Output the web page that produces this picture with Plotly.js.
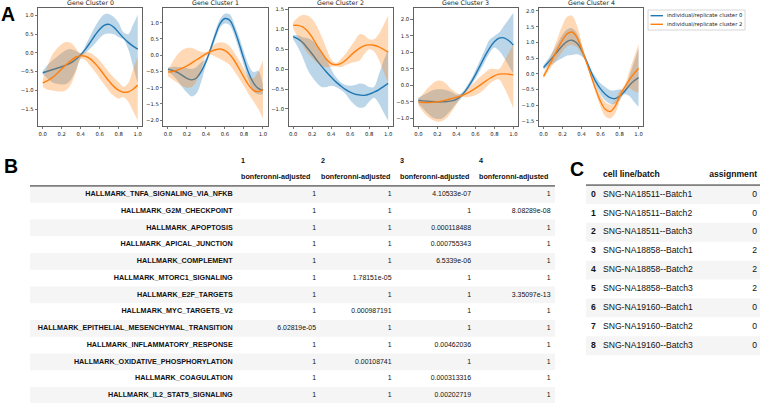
<!DOCTYPE html>
<html>
<head>
<meta charset="utf-8">
<script src="https://cdn.plot.ly/plotly-3.0.1.min.js"></script>
<style>
  html, body { margin: 0; padding: 0; background: #fff; }
  #chart { width: 767px; height: 403px; }
</style>
</head>
<body>
<div id="chart"></div>
<script>
// ---- panel A: smoothed trajectories per gene cluster ----
const tGrid = [0, 0.05, 0.1, 0.15, 0.2, 0.25, 0.3, 0.35, 0.4, 0.45, 0.5, 0.55, 0.6, 0.65, 0.7, 0.75, 0.8, 0.85, 0.9, 0.95, 1.0];
const xTicks = [0, 0.2, 0.4, 0.6, 0.8, 1.0];
const clusterTitles = ["Gene Cluster 0", "Gene Cluster 1", "Gene Cluster 2", "Gene Cluster 3", "Gene Cluster 4"];
const seriesNames = ["individual/replicate cluster 0", "individual/replicate cluster 2"];

// replicate cluster 0 (blue)
const rep0Mean = [
  [-0.53, -0.49, -0.45, -0.41, -0.37, -0.32, -0.26, -0.17, -0.05, 0.10, 0.28, 0.47, 0.63, 0.74, 0.76, 0.68, 0.54, 0.40, 0.28, 0.18, 0.10],
  [-0.43, -0.47, -0.53, -0.62, -0.71, -0.76, -0.70, -0.50, -0.20, 0.20, 0.62, 0.98, 1.13, 1.08, 0.78, 0.35, -0.12, -0.55, -0.85, -1.02, -1.08],
  [0.82, 0.76, 0.67, 0.53, 0.38, 0.22, 0.07, -0.07, -0.20, -0.32, -0.42, -0.51, -0.58, -0.63, -0.65, -0.66, -0.63, -0.58, -0.52, -0.44, -0.36],
  [-0.45, -0.47, -0.48, -0.49, -0.50, -0.50, -0.49, -0.47, -0.42, -0.32, -0.15, 0.07, 0.32, 0.60, 0.88, 1.13, 1.32, 1.43, 1.44, 1.36, 1.22],
  [0.20, 0.37, 0.54, 0.72, 0.90, 1.03, 1.07, 0.98, 0.75, 0.42, 0.06, -0.25, -0.48, -0.65, -0.76, -0.79, -0.72, -0.57, -0.38, -0.23, -0.12],
];
const rep0Low = [
  [-0.57, -0.68, -0.78, -0.82, -0.84, -0.82, -0.70, -0.45, -0.12, 0.00, 0.12, 0.25, 0.40, 0.50, 0.52, 0.50, 0.42, 0.36, 0.10, -0.35, -0.82],
  [-0.50, -0.62, -0.78, -0.98, -1.15, -1.27, -1.18, -0.82, -0.30, 0.08, 0.50, 0.85, 0.98, 0.92, 0.60, 0.15, -0.32, -0.78, -1.12, -1.20, -1.20],
  [0.75, 0.55, 0.30, 0.00, -0.20, -0.35, -0.45, -0.45, -0.42, -0.45, -0.52, -0.62, -0.78, -0.90, -0.97, -0.95, -0.82, -0.72, -0.85, -1.08, -1.30],
  [-0.55, -0.70, -0.85, -0.97, -1.02, -1.00, -0.88, -0.72, -0.55, -0.40, -0.22, -0.02, 0.20, 0.45, 0.72, 0.98, 1.15, 1.05, 0.85, 0.60, 0.35],
  [0.12, 0.25, 0.33, 0.42, 0.50, 0.58, 0.60, 0.62, 0.56, 0.38, -0.02, -0.38, -0.66, -0.85, -0.95, -0.95, -0.85, -0.65, -0.70, -0.88, -1.05],
];
const rep0High = [
  [-0.48, -0.32, -0.20, -0.10, 0.00, 0.08, 0.10, 0.05, 0.00, 0.20, 0.45, 0.70, 0.90, 1.03, 1.03, 0.95, 0.80, 0.55, 0.50, 0.75, 1.02],
  [-0.38, -0.36, -0.36, -0.38, -0.40, -0.42, -0.36, -0.22, -0.10, 0.30, 0.76, 1.12, 1.28, 1.26, 0.95, 0.55, 0.10, -0.30, -0.52, -0.48, -0.95],
  [0.86, 0.85, 0.80, 0.78, 0.72, 0.60, 0.45, 0.25, 0.00, -0.20, -0.33, -0.40, -0.42, -0.40, -0.36, -0.38, -0.45, -0.45, -0.15, 0.20, 0.48],
  [-0.38, -0.30, -0.22, -0.15, -0.12, -0.12, -0.15, -0.20, -0.28, -0.24, -0.06, 0.16, 0.45, 0.76, 1.08, 1.38, 1.50, 1.60, 1.80, 2.00, 2.20],
  [0.28, 0.48, 0.72, 0.98, 1.25, 1.42, 1.45, 1.30, 0.92, 0.48, 0.14, -0.10, -0.30, -0.42, -0.52, -0.52, -0.50, -0.50, -0.10, 0.35, 0.80],
];

// replicate cluster 2 (orange)
const rep2Mean = [
  [-0.80, -0.74, -0.66, -0.55, -0.43, -0.31, -0.20, -0.11, -0.08, -0.09, -0.16, -0.28, -0.43, -0.60, -0.76, -0.90, -1.00, -1.05, -1.04, -0.97, -0.86],
  [-0.52, -0.50, -0.46, -0.40, -0.33, -0.24, -0.14, -0.05, 0.04, 0.11, 0.17, 0.19, 0.14, 0.02, -0.17, -0.42, -0.68, -0.92, -1.08, -1.12, -1.05],
  [1.10, 1.10, 1.06, 0.96, 0.80, 0.60, 0.42, 0.25, 0.14, 0.11, 0.14, 0.22, 0.33, 0.44, 0.53, 0.59, 0.61, 0.60, 0.56, 0.50, 0.43],
  [-0.50, -0.52, -0.52, -0.51, -0.50, -0.47, -0.44, -0.40, -0.36, -0.32, -0.26, -0.18, -0.09, 0.01, 0.11, 0.21, 0.29, 0.34, 0.35, 0.34, 0.32],
  [-0.08, 0.20, 0.50, 0.80, 1.08, 1.28, 1.33, 1.17, 0.80, 0.38, -0.06, -0.50, -0.88, -1.13, -1.20, -1.05, -0.72, -0.45, -0.20, 0.00, 0.17],
];
const rep2Low = [
  [-0.90, -0.98, -1.00, -1.02, -1.03, -0.98, -0.82, -0.50, -0.16, -0.20, -0.35, -0.50, -0.68, -0.85, -1.02, -1.15, -1.22, -1.18, -1.30, -1.55, -1.80],
  [-0.65, -0.75, -0.85, -0.95, -1.00, -0.98, -0.80, -0.45, -0.02, 0.02, -0.05, -0.12, -0.20, -0.30, -0.50, -0.72, -0.95, -1.20, -1.42, -1.65, -1.95],
  [1.02, 0.80, 0.60, 0.40, 0.28, 0.16, 0.08, 0.05, 0.06, 0.07, 0.05, 0.10, 0.15, 0.18, 0.22, 0.38, 0.50, 0.45, 0.25, -0.05, -0.35],
  [-0.60, -0.80, -0.95, -1.05, -1.10, -1.08, -0.98, -0.80, -0.58, -0.36, -0.36, -0.34, -0.30, -0.22, -0.10, 0.05, 0.15, 0.18, -0.05, -0.35, -0.70],
  [-0.15, 0.08, 0.30, 0.50, 0.72, 0.88, 0.92, 0.85, 0.62, 0.35, -0.15, -0.62, -1.05, -1.35, -1.42, -1.28, -0.88, -0.55, -0.45, -0.55, -0.60],
];
const rep2High = [
  [-0.70, -0.35, -0.05, 0.12, 0.24, 0.29, 0.26, 0.12, -0.02, 0.02, 0.00, -0.08, -0.20, -0.36, -0.52, -0.66, -0.78, -0.90, -0.80, -0.45, -0.10],
  [-0.45, -0.20, 0.02, 0.16, 0.22, 0.22, 0.16, 0.10, 0.10, 0.20, 0.35, 0.40, 0.38, 0.28, 0.08, -0.15, -0.42, -0.65, -0.70, -0.50, -0.15],
  [1.18, 1.30, 1.36, 1.35, 1.26, 1.08, 0.82, 0.52, 0.25, 0.15, 0.25, 0.38, 0.55, 0.72, 0.88, 0.85, 0.75, 0.75, 0.88, 1.10, 1.35],
  [-0.42, -0.25, -0.08, 0.06, 0.14, 0.13, 0.03, -0.12, -0.22, -0.28, -0.16, -0.02, 0.12, 0.26, 0.38, 0.50, 0.50, 0.50, 0.72, 0.98, 1.25],
  [0.00, 0.35, 0.75, 1.15, 1.55, 1.82, 1.85, 1.55, 1.00, 0.45, 0.03, -0.38, -0.68, -0.90, -0.98, -0.85, -0.55, -0.38, 0.05, 0.50, 0.95],
];

// ---- panel B: enrichment table ----
const pathways = [
  "HALLMARK_TNFA_SIGNALING_VIA_NFKB", "HALLMARK_G2M_CHECKPOINT", "HALLMARK_APOPTOSIS",
  "HALLMARK_APICAL_JUNCTION", "HALLMARK_COMPLEMENT", "HALLMARK_MTORC1_SIGNALING",
  "HALLMARK_E2F_TARGETS", "HALLMARK_MYC_TARGETS_V2", "HALLMARK_EPITHELIAL_MESENCHYMAL_TRANSITION",
  "HALLMARK_INFLAMMATORY_RESPONSE", "HALLMARK_OXIDATIVE_PHOSPHORYLATION", "HALLMARK_COAGULATION",
  "HALLMARK_IL2_STAT5_SIGNALING",
];
const clusterHeads = ["1", "2", "3", "4"];
const subHead = "bonferonni-adjusted";
const padj1 = [1, 1, 1, 1, 1, 1, 1, 1, 6.02819e-05, 1, 1, 1, 1];
const padj2 = [1, 1, 1, 1, 1, 1.78151e-05, 1, 0.000987191, 1, 1, 0.00108741, 1, 1];
const padj3 = [4.10533e-07, 1, 0.000118488, 0.000755343, 6.5339e-06, 1, 1, 1, 1, 0.00462036, 1, 0.000313316, 0.00202719];
const padj4 = [1, 8.08289e-08, 1, 1, 1, 1, 3.35097e-13, 1, 1, 1, 1, 1, 1];

// ---- panel C: cell line assignment ----
const cellLines = [
  "SNG-NA18511--Batch1", "SNG-NA18511--Batch2", "SNG-NA18511--Batch3",
  "SNG-NA18858--Batch1", "SNG-NA18858--Batch2", "SNG-NA18858--Batch3",
  "SNG-NA19160--Batch1", "SNG-NA19160--Batch2", "SNG-NA19160--Batch3",
];
const assignments = [0, 0, 0, 2, 2, 2, 0, 0, 0];

// ---------------------------------------------------------------------------
const W = 767, H = 403;
const px = (x) => x / W;
const py = (y) => 1 - y / H;

const BLUE = "#1f77b4", ORANGE = "#ff7f0e";
const BLUE_FILL = "rgba(31,119,180,0.3)", ORANGE_FILL = "rgba(255,127,14,0.3)";
const yRanges = [[-1.95, 1.21], [-2.18, 1.47], [-1.43, 1.55], [-1.23, 2.36], [-1.66, 2.11]];
const TABLE_FONT = "Liberation Sans, Arial, Helvetica, sans-serif";
const MPL_FONT = "DejaVu Sans, sans-serif";

// pandas-like %g formatting
const gfmt = (v) => {
  if (v === 1) return "1";
  const e = Math.floor(Math.log10(Math.abs(v)));
  if (e < -4) {
    let [m, ex] = v.toExponential(5).split("e");
    m = m.replace(/\.?0+$/, "");
    const n = parseInt(ex, 10);
    return m + "e" + (n < 0 ? "-" : "+") + String(Math.abs(n)).padStart(2, "0");
  }
  return String(Number(v.toPrecision(6)));
};

const traces = [];
const shapes = [];
const annotations = [];
const layout = {
  width: W, height: H,
  margin: { l: 0, r: 0, t: 0, b: 0 },
  paper_bgcolor: "#ffffff",
  plot_bgcolor: "rgba(0,0,0,0)",
  showlegend: false,
  hovermode: false,
  font: { family: MPL_FONT, color: "#222" },
};

const tickFont = { family: MPL_FONT, size: 5.3, color: "#222" };
const axisBase = {
  showline: true, mirror: true, linecolor: "#3a3a3a", linewidth: 0.8,
  ticks: "outside", ticklen: 2.5, tickwidth: 0.7, tickcolor: "#3a3a3a",
  showgrid: false, zeroline: false, tickfont: tickFont, tickformat: ".1f", fixedrange: true,
};

const panelW = 104.5, panelTop = 7.5, panelBottom = 126;
const series = [
  [rep0Low, rep0High, rep0Mean, BLUE, BLUE_FILL],
  [rep2Low, rep2High, rep2Mean, ORANGE, ORANGE_FILL],
];

clusterTitles.forEach((title, k) => {
  const sfx = k === 0 ? "" : String(k + 1);
  const left = 38 + 125.2 * k;
  layout["xaxis" + sfx] = {
    ...axisBase, domain: [px(left), px(left + panelW)], anchor: "y" + sfx,
    range: [-0.05, 1.05], tickmode: "array", tickvals: xTicks,
  };
  layout["yaxis" + sfx] = {
    ...axisBase, domain: [py(panelBottom), py(panelTop)], anchor: "x" + sfx,
    range: yRanges[k], tick0: 0, dtick: 0.5,
  };
  const xa = "x" + sfx, ya = "y" + sfx;
  series.forEach(([lo, hi, mean, color, fill]) => {
    traces.push({ type: "scatter", mode: "lines", x: tGrid, y: lo[k], xaxis: xa, yaxis: ya,
      line: { width: 0, shape: "spline" }, hoverinfo: "skip" });
    traces.push({ type: "scatter", mode: "lines", x: tGrid, y: hi[k], xaxis: xa, yaxis: ya,
      fill: "tonexty", fillcolor: fill, line: { width: 0, shape: "spline" }, hoverinfo: "skip" });
    traces.push({ type: "scatter", mode: "lines", x: tGrid, y: mean[k], xaxis: xa, yaxis: ya,
      line: { color, width: 1.4, shape: "spline" }, hoverinfo: "skip" });
  });
  annotations.push({
    xref: "paper", yref: "paper", x: px(left + panelW / 2), y: py(panelTop), yshift: 0.5,
    xanchor: "center", yanchor: "bottom", text: title, showarrow: false, borderpad: 0,
    font: { family: MPL_FONT, size: 6.3, color: "#222" },
  });
});

// legend (drawn by hand so it can be as compact as matplotlib's)
shapes.push({ type: "rect", xref: "paper", yref: "paper", x0: px(648), x1: px(745), y0: py(30), y1: py(10),
  line: { color: "#cccccc", width: 0.8 }, fillcolor: "#ffffff" });
seriesNames.forEach((name, s) => {
  const yy = 15.7 + 8.6 * s;
  shapes.push({ type: "line", xref: "paper", yref: "paper", x0: px(650.5), x1: px(663), y0: py(yy), y1: py(yy),
    line: { color: s === 0 ? BLUE : ORANGE, width: 1.4 } });
  annotations.push({ xref: "paper", yref: "paper", x: px(665.5), y: py(yy), xanchor: "left", yanchor: "middle",
    text: name, showarrow: false, borderpad: 0, font: { family: MPL_FONT, size: 5.3, color: "#222" } });
});

// panel letters
[["A", 0, 14.5], ["B", 2.5, 166], ["C", 568.5, 168.5]].forEach(([t, x, y]) => {
  annotations.push({ xref: "paper", yref: "paper", x: px(x), y: py(y), xanchor: "left", yanchor: "middle",
    text: "<b>" + t + "</b>", showarrow: false, borderpad: 0,
    font: { family: TABLE_FONT, size: 19.5, color: "#000" } });
});

// ---- table B on its own hidden axes: x in page pixels, y in row units ----
const bRow0 = 194.3, bRowH = 16.75;
layout.xaxis6 = { domain: [0, 1], range: [0, W], visible: false, fixedrange: true, anchor: "y6" };
layout.yaxis6 = { domain: [0, 1], range: [(H - bRow0) / bRowH, -bRow0 / bRowH], visible: false, fixedrange: true, anchor: "x6" };
const bIndexRight = 232.7;
const bColLeft = [241, 321, 400, 479];
const bColRight = [316, 391.5, 471, 550.5];
const bBand = [30, 555];
const rowIdx = pathways.map((_, i) => i);

rowIdx.filter((i) => i % 2 === 0).forEach((i) => {
  shapes.push({ type: "rect", xref: "x6", yref: "y6", x0: bBand[0], x1: bBand[1], y0: i - 0.5, y1: i + 0.5,
    line: { width: 0 }, fillcolor: "#f5f5f5", layer: "below" });
});
shapes.push({ type: "line", xref: "x6", yref: "y6", x0: bBand[0], x1: bBand[1], y0: -0.5, y1: -0.5,
  line: { color: "#222", width: 1 } });

const txt = (x, y, text, pos, size, xa, ya) => ({
  type: "scatter", mode: "text", x, y, text, textposition: pos, xaxis: xa, yaxis: ya,
  textfont: { family: TABLE_FONT, size, color: "#111" }, cliponaxis: false, hoverinfo: "skip",
});

traces.push(txt(rowIdx.map(() => bIndexRight), rowIdx, pathways.map((p) => "<b>" + p + "</b>"), "middle left", 7.2, "x6", "y6"));
[padj1, padj2, padj3, padj4].forEach((col, j) => {
  traces.push(txt(rowIdx.map(() => bColRight[j]), rowIdx, col.map(gfmt), "middle left", 6.9, "x6", "y6"));
});
traces.push(txt(bColLeft, bColLeft.map(() => -2), clusterHeads.map((h) => "<b>" + h + "</b>"), "middle right", 7.2, "x6", "y6"));
traces.push(txt(bColLeft, bColLeft.map(() => -1), bColLeft.map(() => "<b>" + subHead + "</b>"), "middle right", 7.2, "x6", "y6"));

// ---- table C ----
const cRow0 = 194.5, cRowH = 18.9;
layout.xaxis7 = { domain: [0, 1], range: [0, W], visible: false, fixedrange: true, anchor: "y7" };
layout.yaxis7 = { domain: [0, 1], range: [(H - cRow0) / cRowH, -cRow0 / cRowH], visible: false, fixedrange: true, anchor: "x7" };
const cIndexX = 593.5, cNameLeft = 603, cValRight = 757;
const cBand = [586, 760];
const cIdx = cellLines.map((_, i) => i);

cIdx.filter((i) => i % 2 === 0).forEach((i) => {
  shapes.push({ type: "rect", xref: "x7", yref: "y7", x0: cBand[0], x1: cBand[1], y0: i - 0.5, y1: i + 0.5,
    line: { width: 0 }, fillcolor: "#f5f5f5", layer: "below" });
});
const cHeadY = (175 - cRow0) / cRowH;
const cLineY = -0.5;
shapes.push({ type: "line", xref: "x7", yref: "y7", x0: cBand[0], x1: cBand[1], y0: cLineY, y1: cLineY,
  line: { color: "#222", width: 1 } });

traces.push(txt(cIdx.map(() => cIndexX), cIdx, cIdx.map((i) => "<b>" + i + "</b>"), "middle center", 8.6, "x7", "y7"));
traces.push(txt(cIdx.map(() => cNameLeft), cIdx, cellLines, "middle right", 8.6, "x7", "y7"));
traces.push(txt(cIdx.map(() => cValRight), cIdx, assignments.map(String), "middle left", 8.6, "x7", "y7"));
traces.push(txt([cNameLeft], [cHeadY], ["<b>cell line/batch</b>"], "middle right", 8.6, "x7", "y7"));
traces.push(txt([cValRight], [cHeadY], ["<b>assignment</b>"], "middle left", 8.6, "x7", "y7"));

layout.shapes = shapes;
layout.annotations = annotations;

Plotly.newPlot("chart", traces, layout, { staticPlot: true, displayModeBar: false });
</script>
</body>
</html>
